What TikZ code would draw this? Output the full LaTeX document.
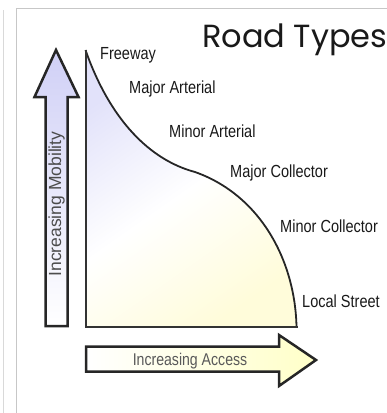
\documentclass[tikz,border=0pt]{standalone}
\usepackage{fontspec}
\setmainfont{Liberation Sans}
\newfontfamily\labfont[FakeStretch=0.83]{Liberation Sans}
\newfontfamily\titlefont{Poppins}
\begin{document}
\begin{tikzpicture}[x=1pt,y=-1pt,
  frame/.style={draw=black!22,line width=1.5pt},
  bigarrow/.style={draw=black!85,line width=2.5pt,line join=miter},
  curveline/.style={draw=black!85,line width=1.8pt},
  roadlabel/.style={anchor=base west,inner sep=0pt,text=black!90,
    font=\labfont\fontsize{17.5}{17.5}\selectfont},
  axislabel/.style={inner sep=0pt,text=black!70,
    font=\fontsize{17.5}{17.5}\selectfont}]
\definecolor{lav}{RGB}{208,208,246}
\definecolor{palelav}{RGB}{226,226,250}
\definecolor{paleyel}{RGB}{255,252,218}
\definecolor{yel}{RGB}{255,255,200}
\useasboundingbox (0,0) rectangle (387,413);
% panel edges
\draw[draw=black!15,line width=1.2pt] (3.5,10) -- (3.5,415);
\draw[frame] (390,8.5) -- (16.5,8.5) -- (16.5,416);
% title
\node[anchor=base west,inner sep=0pt,text=black!90,
  font=\titlefont\fontsize{32}{32}\selectfont] (title) at (202,47) {Road Types};
% mobility arrow
\shade[top color=lav,bottom color=white,bigarrow]
  (45.5,326) -- (45.5,97) -- (34.5,97) -- (56,50) -- (78.5,97)
  -- (67.5,97) -- (67.5,326) -- cycle;
\node[axislabel,rotate=90] (mob) at (56.5,204) {Increasing Mobility};
% access arrow
\shade[left color=white,right color=yel,bigarrow]
  (86,346.5) -- (279,346.5) -- (279,335) -- (316,360) -- (279,386)
  -- (279,371.5) -- (86,371.5) -- cycle;
\node[axislabel,text=black!65,font=\labfont\fontsize{17}{17}\selectfont]
  (acc) at (190,361) {Increasing Access};
% mobility versus access curve, shaded from lavender to pale yellow
\shade[top color=palelav,bottom color=paleyel,middle color=white,
  shading angle=35]
  (85.5,50) .. controls (110,120) and (150,160) .. (195,172)
  .. controls (260,195) and (295,260) .. (296.5,326.5)
  -- (85.5,326.5) -- cycle;
\draw[curveline]
  (85.5,50) .. controls (110,120) and (150,160) .. (195,172)
  .. controls (260,195) and (295,260) .. (296.5,326.5);
\draw[draw=black!80,line width=2pt] (85.5,50) -- (85.5,326.5) -- (297.5,326.5);
% road types
\node[roadlabel] (fw) at (100,59) {Freeway};
\node[roadlabel] (maa) at (129,93) {Major Arterial};
\node[roadlabel] (mia) at (169,137) {Minor Arterial};
\node[roadlabel] (mac) at (230,177) {Major Collector};
\node[roadlabel] (mic) at (280,232) {Minor Collector};
\node[roadlabel] (ls) at (302,307) {Local Street};
\end{tikzpicture}
\end{document}
